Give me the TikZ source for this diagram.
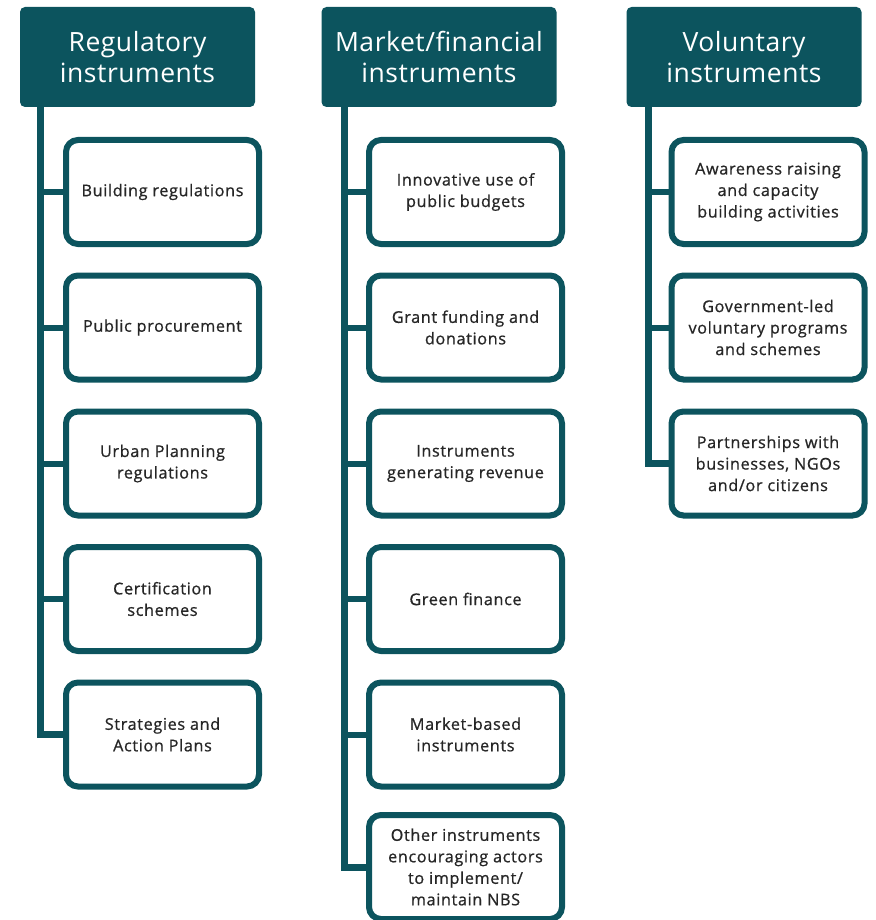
\documentclass[tikz,border=0pt]{standalone}
\usepackage{fontspec}
\setmainfont{Open Sans}
\newfontfamily\headfont[LetterSpace=2]{Open Sans}
\newfontfamily\itemfont[LetterSpace=4, FakeBold=0.8]{Open Sans}
\definecolor{teal}{RGB}{12,84,94}

\tikzset{
  head/.style={fill=teal, rounded corners=5pt, minimum width=235pt, minimum height=100pt,
    text=white, align=center, font=\headfont\fontsize{26.5}{31}\selectfont},
  item/.style={draw=teal, line width=6pt, rounded corners=12pt, fill=white,
    minimum width=193pt, minimum height=104pt, align=center, text=black!85,
    font=\itemfont\fontsize{16.2}{21.5}\selectfont},
  trunk/.style={draw=teal, line width=7pt},
  branch/.style={draw=teal, line width=6pt}
}

\begin{document}
\begin{tikzpicture}[x=1pt, y=1pt]

\useasboundingbox (0,0) rectangle (875,-920);

% headers
\node[head] (reg) at (137.5,-57) {Regulatory\\instruments};
\node[head] (mkt) at (439,-57) {Market/financial\\instruments};
\node[head] (vol) at (744,-57) {Voluntary\\instruments};

\coordinate (regtop) at (40,-107);
\coordinate (mkttop) at (344,-107);
\coordinate (voltop) at (648,-107);

% regulatory
\node[item] (r1) at (162.5,-192) {Building regulations};
\node[item] (r2) at (162.5,-327.5) {Public procurement};
\node[item] (r3) at (162.5,-463.5) {Urban Planning\\regulations};
\node[item] (r4) at (162.5,-599) {Certification\\schemes};
\node[item] (r5) at (162.5,-734.5) {Strategies and\\Action Plans};

% market/financial
\node[item] (m1) at (465.5,-192) {Innovative use of\\public budgets};
\node[item] (m2) at (465.5,-327.5) {Grant funding and\\donations};
\node[item] (m3) at (465.5,-463.5) {Instruments\\generating revenue};
\node[item] (m4) at (465.5,-599) {Green finance};
\node[item] (m5) at (465.5,-734.5) {Market-based\\instruments};
\node[item] (m6) at (465.5,-867) {Other instruments\\encouraging actors\\to implement/\\maintain NBS};

% voluntary
\node[item] (v1) at (768,-192) {Awareness raising\\and capacity\\building activities};
\node[item] (v2) at (768,-327.5) {Government-led\\voluntary programs\\and schemes};
\node[item] (v3) at (768,-463.5) {Partnerships with\\businesses, NGOs\\and/or citizens};

% connectors
\draw[trunk] (regtop) |- (r5.west);
\foreach \n in {r1,r2,r3,r4}
    \draw[branch] (\n.west) -- (\n.west -| regtop);
\draw[trunk] (mkttop) |- (m6.west);
\foreach \n in {m1,m2,m3,m4,m5}
    \draw[branch] (\n.west) -- (\n.west -| mkttop);
\draw[trunk] (voltop) |- (v3.west);
\foreach \n in {v1,v2}
    \draw[branch] (\n.west) -- (\n.west -| voltop);

\end{tikzpicture}
\end{document}
